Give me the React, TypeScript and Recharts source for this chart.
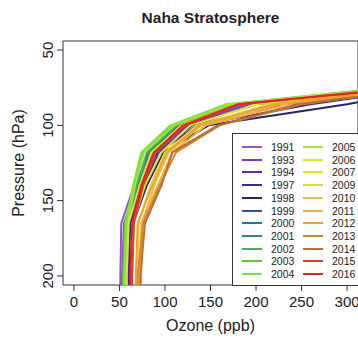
import { ScatterChart, Scatter, XAxis, YAxis, ReferenceArea } from 'recharts';

// Pressure levels (hPa) at which each sonde profile is sampled
const pressureLevels = [228, 200, 165, 140, 118, 100, 86, 74];

// Ozone (ppb) per year, one value per pressure level
const o1991 = [51, 51, 52, 66, 84, 118, 190, 400];
const o1993 = [53, 53, 55, 70, 88, 122, 195, 400];
const o1994 = [55, 56, 58, 72, 90, 125, 200, 400];
const o1997 = [60, 60, 62, 76, 93, 135, 260, 400];
const o1998 = [62, 62, 65, 80, 98, 148, 300, 410];
const o1999 = [58, 58, 60, 74, 92, 130, 230, 400];
const o2000 = [56, 56, 58, 70, 85, 120, 185, 390];
const o2001 = [55, 55, 57, 68, 82, 115, 180, 380];
const o2002 = [57, 57, 59, 69, 80, 112, 176, 370];
const o2003 = [54, 54, 56, 66, 76, 108, 170, 365];
const o2004 = [55, 55, 57, 65, 74, 106, 167, 360];
const o2005 = [56, 57, 59, 67, 77, 110, 172, 362];
const o2006 = [58, 58, 60, 72, 85, 118, 180, 375];
const o2007 = [63, 63, 65, 78, 96, 128, 200, 390];
const o2009 = [70, 70, 71, 84, 100, 135, 215, 395];
const o2010 = [74, 74, 75, 88, 104, 140, 225, 400];
const o2011 = [72, 72, 74, 92, 108, 145, 235, 400];
const o2012 = [68, 68, 70, 86, 102, 138, 220, 395];
const o2013 = [70, 70, 76, 94, 112, 160, 250, 400];
const o2014 = [73, 73, 78, 96, 108, 158, 245, 405];
const o2015 = [64, 64, 66, 76, 90, 122, 182, 385];
const o2016 = [62, 62, 64, 74, 88, 120, 180, 380];

const years = [
  '1991', '1993', '1994', '1997', '1998', '1999', '2000', '2001', '2002', '2003', '2004',
  '2005', '2006', '2007', '2009', '2010', '2011', '2012', '2013', '2014', '2015', '2016',
];

const profiles = [
  o1991, o1993, o1994, o1997, o1998, o1999, o2000, o2001, o2002, o2003, o2004,
  o2005, o2006, o2007, o2009, o2010, o2011, o2012, o2013, o2014, o2015, o2016,
];

const yearColors = [
  '#9b4fd0', '#7a3fd0', '#5a2fc8', '#3a2aa0', '#24246e', '#3050a8', '#2a7890', '#2a9070',
  '#40b850', '#50d030', '#80e040', '#a8e040', '#d0e830', '#e8e020', '#e8d040', '#e8c040',
  '#f0b040', '#f0a030', '#d08830', '#c06830', '#d84820', '#e82020',
];

const xTicks = [0, 50, 100, 150, 200, 250, 300];
const yTicks = [50, 100, 150, 200];

const FONT = '"Liberation Sans", Arial, sans-serif';
const INK = '#222';

const series = years.map((year, i) => ({
  year,
  color: yearColors[i],
  data: pressureLevels.map((p, j) => ({ p, ozone: profiles[i][j] })),
}));

const XTick = ({ x, y, payload }: any) => (
  <text x={x} y={y} dy={14} textAnchor="middle" fontSize={15} fontFamily={FONT} fill={INK}>
    {payload.value}
  </text>
);

// y tick labels run parallel to the axis
const YTick = ({ x, y, payload }: any) => (
  <text
    x={x - 2}
    y={y}
    textAnchor="middle"
    fontSize={15}
    fontFamily={FONT}
    fill={INK}
    transform={`rotate(-90, ${x - 2}, ${y})`}
  >
    {payload.value}
  </text>
);

function YearLegend() {
  const col1 = series.slice(0, 11);
  const col2 = series.slice(11);
  const row = (s: { year: string; color: string }, idx: number, left: number) => (
    <div
      key={s.year}
      style={{ position: 'absolute', left, top: 13 + idx * 12.7 - 7, height: 14, display: 'flex', alignItems: 'center' }}
    >
      <div style={{ width: 20, height: 2, background: s.color }} />
      <span style={{ marginLeft: 9, fontSize: 10.5, lineHeight: '14px', color: INK }}>{s.year}</span>
    </div>
  );
  return (
    <div
      style={{
        position: 'absolute',
        left: 232,
        top: 133,
        width: 140,
        height: 151,
        border: '1px solid #333',
        background: '#fff',
        fontFamily: FONT,
      }}
    >
      {col1.map((s, i) => row(s, i, 9))}
      {col2.map((s, i) => row(s, i, 70))}
    </div>
  );
}

export default function App() {
  return (
    <div style={{ position: 'absolute', left: 0, top: 0, width: 358, height: 338, overflow: 'hidden', background: '#fff' }}>
      <ScatterChart width={358} height={338} margin={{ top: 41, right: 0, bottom: 0, left: 0 }}>
        <XAxis
          type="number"
          dataKey="ozone"
          domain={[-12, 312]}
          ticks={xTicks}
          allowDataOverflow
          height={53}
          axisLine={false}
          tickSize={6}
          tickLine={{ stroke: '#333' }}
          tick={<XTick />}
          interval={0}
        />
        <YAxis
          type="number"
          dataKey="p"
          domain={[44, 206]}
          ticks={yTicks}
          reversed
          allowDataOverflow
          width={63}
          axisLine={false}
          tickSize={6}
          tickLine={{ stroke: '#333' }}
          tick={<YTick />}
          interval={0}
        />
        {series.map((s) => (
          <Scatter
            key={s.year}
            name={s.year}
            data={s.data}
            fill={s.color}
            line={{ stroke: s.color, strokeWidth: 2, strokeLinejoin: 'round', strokeLinecap: 'round' }}
            shape={() => <g />}
            legendType="none"
            isAnimationActive={false}
          />
        ))}
        <ReferenceArea x1={-12} x2={312} y1={44} y2={206} fill="none" stroke="#333" strokeWidth={1} />
      </ScatterChart>
      <svg width={358} height={338} style={{ position: 'absolute', left: 0, top: 0, pointerEvents: 'none' }}>
        <text x={210.5} y={23} textAnchor="middle" fontSize={15.5} fontWeight="bold" fontFamily={FONT} fill={INK}>
          Naha Stratosphere
        </text>
        <text x={210.5} y={331} textAnchor="middle" fontSize={16} fontFamily={FONT} fill={INK}>
          Ozone (ppb)
        </text>
        <text
          x={24}
          y={163}
          textAnchor="middle"
          fontSize={16}
          fontFamily={FONT}
          fill={INK}
          transform="rotate(-90, 24, 163)"
        >
          Pressure (hPa)
        </text>
      </svg>
      <YearLegend />
    </div>
  );
}
